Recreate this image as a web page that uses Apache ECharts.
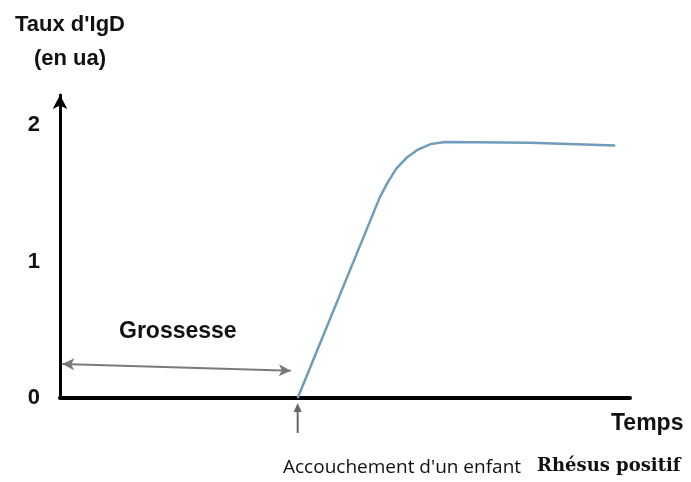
<!DOCTYPE html>
<html>
<head>
<meta charset="utf-8">
<script src="https://cdn.jsdelivr.net/npm/echarts@6/dist/echarts.min.js"></script>
<style>
  html, body { margin: 0; padding: 0; background: #fff; }
  #chart { width: 691px; height: 482px; }
</style>
</head>
<body>
<div id="chart"></div>
<script>
// temps (unités arbitraires) et taux d'IgD (ua)
const temps = [41.7, 56.1, 57.5, 59.0, 60.8, 62.8, 65.0, 67.5, 82.4, 97.4];
const tauxIgD = [0, 1.47, 1.58, 1.68, 1.76, 1.82, 1.86, 1.875, 1.87, 1.85];
const yTicks = [0, 1, 2];
// flèche "Grossesse" : début et fin
const grossesseX = [0.4, 40.5];
const grossesseY = [0.25, 0.2];
const accouchement = 41.7;

const chart = echarts.init(document.getElementById('chart'));

const option = {
  backgroundColor: '#fff',
  animation: false,
  grid: { left: 60, right: 61, top: 95, bottom: 84, outerBoundsMode: 'none' },
  xAxis: {
    type: 'value',
    min: 0,
    max: 100,
    axisLine: { lineStyle: { color: '#000', width: 4 } },
    axisTick: { show: false },
    axisLabel: { show: false },
    splitLine: { show: false }
  },
  yAxis: {
    type: 'value',
    min: 0,
    max: 2.22,
    interval: 1,
    name: "Taux d'IgD\n(en ua)",
    nameLocation: 'end',
    nameGap: 19,
    nameTextStyle: {
      fontFamily: 'Liberation Sans',
      fontWeight: 'bold',
      fontSize: 22,
      color: '#111',
      lineHeight: 34,
      align: 'center',
      padding: [0, 0, 0, 20]
    },
    axisLine: {
      show: true,
      symbol: ['none', 'arrow'],
      symbolSize: [11, 14],
      lineStyle: { color: '#000', width: 3 }
    },
    axisTick: { show: false },
    splitLine: { show: false },
    axisLabel: {
      margin: 20,
      fontFamily: 'Liberation Sans',
      fontWeight: 'bold',
      fontSize: 22,
      color: '#111',
      formatter: v => (yTicks.indexOf(v) >= 0 ? String(v) : '')
    }
  },
  series: [
    {
      type: 'line',
      data: temps.map((t, i) => [t, tauxIgD[i]]),
      smooth: false,
      showSymbol: false,
      lineStyle: { color: '#6f9cbb', width: 2.5, join: 'round' },
      markLine: {
        silent: true,
        symbol: ['arrow', 'arrow'],
        symbolSize: [9, 12],
        label: { show: false },
        lineStyle: { color: '#7a7a7a', width: 2, type: 'solid' },
        data: [[
          { coord: [grossesseX[0], grossesseY[0]] },
          { coord: [grossesseX[1], grossesseY[1]] }
        ]]
      }
    }
  ]
};

chart.setOption(option);

const birthPx = chart.convertToPixel({ gridIndex: 0 }, [accouchement, 0]);

chart.setOption({
  graphic: [
    {
      type: 'text',
      left: 119,
      top: 320,
      style: {
        text: 'Grossesse',
        fontFamily: 'Liberation Sans',
        fontWeight: 'bold',
        fontSize: 23,
        fill: '#111'
      }
    },
    {
      type: 'text',
      left: 611,
      top: 412,
      style: {
        text: 'Temps',
        fontFamily: 'Liberation Sans',
        fontWeight: 'bold',
        fontSize: 23,
        fill: '#111'
      }
    },
    {
      type: 'line',
      shape: { x1: birthPx[0], y1: 433, x2: birthPx[0], y2: 410 },
      style: { stroke: '#666', lineWidth: 2 }
    },
    {
      type: 'polygon',
      shape: { points: [[birthPx[0] - 4, 412], [birthPx[0] + 4, 412], [birthPx[0], 403]] },
      style: { fill: '#666' }
    },
    {
      type: 'text',
      left: 283,
      top: 458,
      style: {
        text: "Accouchement d'un enfant",
        fontFamily: 'Open Sans',
        fontSize: 19,
        fill: '#111'
      }
    },
    {
      type: 'text',
      left: 537,
      top: 457,
      style: {
        text: 'Rhésus positif',
        fontFamily: 'DejaVu Serif',
        fontWeight: 'bold',
        fontSize: 18,
        fill: '#111'
      }
    }
  ]
});
</script>
</body>
</html>
